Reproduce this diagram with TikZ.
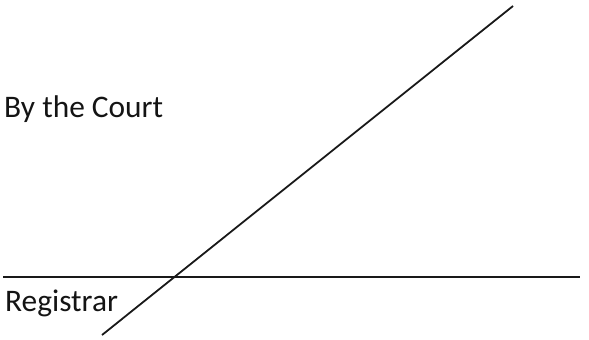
\documentclass[tikz,border=0pt]{standalone}
\usepackage{fontspec}
\setmainfont{Carlito}
\tikzset{
  % --- signature block ---------------------------------------------------
  sig/.style  ={inner sep=0pt, font=\fontsize{31.5}{38}\selectfont, text=black!92},
  rule/.style ={line width=2pt, draw=black!90},
  slash/.style={line width=1.8pt, draw=black!90},
}
\begin{document}
\begin{tikzpicture}[x=1bp,y=-1bp]
  \useasboundingbox (0,0) rectangle (589,339);

  % ===================== texts =====================
  \node[sig, anchor=base west] (court) at (4,117) {By the Court};
  \node[sig, anchor=base west] (registrar) at (5,311) {Registrar};

  % ===================== lines =====================
  \coordinate (ruleL) at (3,277);
  \coordinate (ruleR) at (580,277);
  \coordinate (slashB) at (102,335);
  \coordinate (slashT) at (513,6);

  \draw[rule]  (ruleL) -- (ruleR);
  \draw[slash] (slashB) -- (slashT);
\end{tikzpicture}
\end{document}
